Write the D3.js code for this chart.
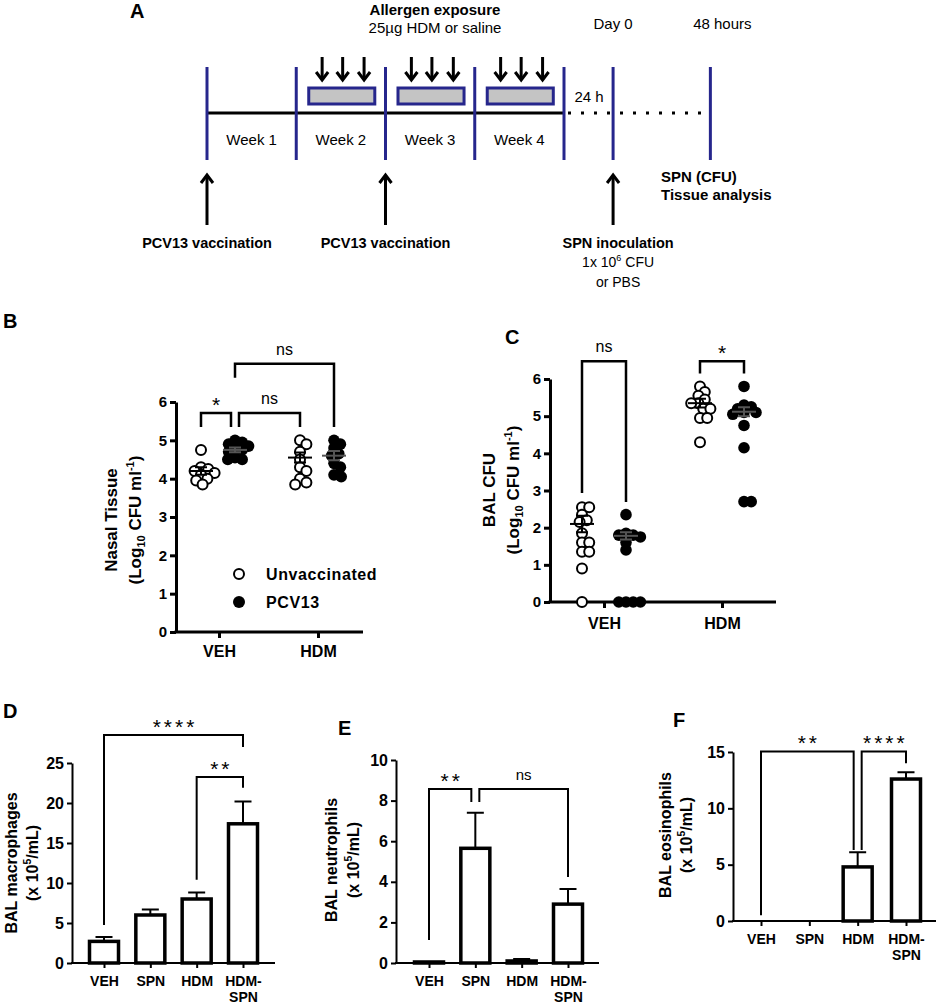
<!DOCTYPE html>
<html>
<head>
<meta charset="utf-8">
<script src="https://cdn.jsdelivr.net/npm/d3@7"></script>
<style>
body{margin:0;background:#fff;}
svg text{font-family:"Liberation Sans",Arial,sans-serif;fill:#000;}
</style>
</head>
<body>
<svg id="fig" width="941" height="1005"></svg>
<script>
/* ---- data ---- */
// panel A timeline (in weeks from first vaccination)
var weekNames = ["Week 1", "Week 2", "Week 3", "Week 4"];
var allergenWeeks = [1, 2, 3];
var doseDays = [0.29, 0.52, 0.76];     // three HDM doses inside each week
var vaccineWeeks = [0, 2];
var dayZero = 4.55, endPoint = 5.64;

// panel B nasal tissue, log10 CFU
var groupsBC = ["VEH", "HDM"];
var nasalUnvac = [[4.75, 4.3, 4.25, 4.2, 4.15, 4.1, 4.0, 3.95, 3.85],
                  [5.0, 4.9, 4.7, 4.5, 4.3, 4.2, 4.0, 3.9, 3.85]];
var nasalPcv = [[5.0, 4.95, 4.9, 4.85, 4.8, 4.75, 4.7, 4.55, 4.5, 4.5],
                [5.0, 4.9, 4.8, 4.65, 4.6, 4.4, 4.3, 4.1, 4.05]];
var nasalUnvacMean = [4.2, 4.55], nasalUnvacSem = [0.1, 0.13];
var nasalPcvMean = [4.75, 4.6], nasalPcvSem = [0.06, 0.12];

// panel C BAL CFU
var balUnvac = [[2.55, 2.55, 2.35, 2.2, 2.15, 1.85, 1.6, 1.6, 1.35, 1.35, 0.9, 0],
                [5.8, 5.65, 5.55, 5.45, 5.35, 5.35, 5.2, 5.2, 4.95, 4.95, 4.3]];
var balPcv = [[2.35, 1.85, 1.8, 1.8, 1.75, 1.6, 1.4, 0, 0, 0, 0],
              [5.8, 5.3, 5.25, 5.2, 5.1, 5.1, 5.05, 4.75, 4.15, 2.7, 2.7]];
var balUnvacMean = [2.1, 5.35], balUnvacSem = [0.22, 0.12];
var balPcvMean = [1.78, 5.12], balPcvSem = [0.1, 0.12];

// panels D-F cell counts (x 10^5/mL), mean and SEM
var barCats = ["VEH", "SPN", "HDM", "HDM-SPN"];
var macMean = [2.7, 6.0, 8.0, 17.4], macSem = [0.55, 0.7, 0.8, 2.8];
var neuMean = [0.05, 5.65, 0.1, 2.9], neuSem = [0, 1.75, 0.1, 0.75];
var eosMean = [0, 0, 4.8, 12.6], eosSem = [0, 0, 1.3, 0.6];

var svg = d3.select("#fig");
var navy = "#26268c";

function label(txt, x, y) {
  svg.append("text").attr("x", x).attr("y", y).attr("font-size", 20)
    .attr("font-weight", "bold").text(txt);
}

/* ---------------- panel A ---------------- */
function arrow(g, x, yTail, yTip) {
  var dir = yTip > yTail ? 1 : -1;
  g.append("line").attr("x1", x).attr("x2", x).attr("y1", yTail).attr("y2", yTip - dir)
    .attr("stroke", "#000").attr("stroke-width", 3);
  g.append("path")
    .attr("d", "M" + (x - 6) + "," + (yTip - dir * 8) + "L" + x + "," + yTip + "L" + (x + 6) + "," + (yTip - dir * 8))
    .attr("fill", "none").attr("stroke", "#000").attr("stroke-width", 3);
}

function drawTimeline() {
  var g = svg.append("g");
  var tx = d3.scaleLinear().domain([0, 4]).range([207, 564]);
  label("A", 130, 18);

  g.append("line").attr("x1", tx(0)).attr("x2", tx(4)).attr("y1", 113).attr("y2", 113)
    .attr("stroke", "#000").attr("stroke-width", 3);
  g.append("line").attr("x1", tx(4) + 4).attr("x2", tx(5.56)).attr("y1", 113).attr("y2", 113)
    .attr("stroke", "#000").attr("stroke-width", 3).attr("stroke-dasharray", "3,10");

  g.selectAll(".wk").data(d3.range(5).concat([dayZero, endPoint])).enter().append("line")
    .attr("x1", function(d) { return tx(d); }).attr("x2", function(d) { return tx(d); })
    .attr("y1", 67).attr("y2", 160).attr("stroke", navy).attr("stroke-width", 3);

  g.selectAll(".wl").data(weekNames).enter().append("text")
    .attr("x", function(d, i) { return tx(i + 0.5); }).attr("y", 145)
    .attr("text-anchor", "middle").attr("font-size", 15).text(function(d) { return d; });

  allergenWeeks.forEach(function(w) {
    g.append("rect").attr("x", tx(w + 0.14)).attr("y", 88)
      .attr("width", tx(w + 0.88) - tx(w + 0.14)).attr("height", 16)
      .attr("fill", "#c4c4c4").attr("stroke", navy).attr("stroke-width", 3);
    doseDays.forEach(function(d) { arrow(g, tx(w + d), 57, 80); });
  });

  vaccineWeeks.concat([dayZero]).forEach(function(w) { arrow(g, tx(w), 225, 175); });

  function t(s, x, y, opt) {
    var e = g.append("text").attr("x", x).attr("y", y).attr("font-size", opt.fs || 15)
      .attr("text-anchor", opt.anchor || "middle").text(s);
    if (opt.bold) e.attr("font-weight", "bold");
    return e;
  }
  t("Allergen exposure", 435, 15, {bold: true});
  t("25\u00b5g HDM or saline", 435, 33, {});
  t("Day 0", tx(dayZero), 29, {});
  t("48 hours", tx(endPoint) + 12, 29, {});
  t("24 h", 589, 102, {});
  vaccineWeeks.forEach(function(w) { t("PCV13 vaccination", tx(w), 248, {bold: true, fs: 14.5}); });
  t("SPN inoculation", tx(dayZero) + 5, 248, {bold: true, fs: 14.5});
  var sup = t("1x 10", tx(dayZero) + 5, 267, {fs: 14});
  sup.append("tspan").attr("font-size", 9).attr("dy", -6).text("6");
  sup.append("tspan").attr("dy", 6).text(" CFU");
  t("or PBS", tx(dayZero) + 5, 287, {fs: 14});
  t("SPN (CFU)", 661, 182, {bold: true, anchor: "start"});
  t("Tissue analysis", 661, 200, {bold: true, anchor: "start"});
}
drawTimeline();

/* ---------------- shared helpers ---------------- */
function yTitle(g, x1, x2, yc, line1, line2Parts, fs) {
  g.append("text").attr("transform", "translate(" + x1 + "," + yc + ") rotate(-90)")
    .attr("text-anchor", "middle").attr("font-size", fs).attr("font-weight", "bold").text(line1);
  var t2 = g.append("text").attr("transform", "translate(" + x2 + "," + yc + ") rotate(-90)")
    .attr("text-anchor", "middle").attr("font-size", fs).attr("font-weight", "bold");
  line2Parts.forEach(function(p) {
    var s = t2.append("tspan").text(p.t);
    if (p.sub) s.attr("font-size", fs * 0.65).attr("dy", 4);
    if (p.sup) s.attr("font-size", fs * 0.65).attr("dy", -7);
    if (p.back) s.attr("dy", p.back);
  });
}

function brackets(g, list, xOf, y, opts) {
  list.forEach(function(b, i) {
    var xa = xOf(b.a), xb = xOf(b.b);
    list.forEach(function(o, j) {
      if (j === i || o.top !== b.top) return;
      if (o.a === b.a || o.b === b.a) xa += 4;
      if (o.a === b.b || o.b === b.b) xb -= 4;
    });
    g.append("path")
      .attr("d", "M" + xa + "," + y(b.endA) + "V" + y(b.top) + "H" + xb + "V" + y(b.endB))
      .attr("fill", "none").attr("stroke", "#000").attr("stroke-width", opts.sw);
    var star = b.label.indexOf("*") >= 0;
    g.append("text").attr("x", (xa + xb) / 2 + (star ? 1.5 : 0))
      .attr("y", y(b.top) - (star ? 1 : 9))
      .attr("text-anchor", "middle")
      .attr("font-size", star ? 21 : opts.fs)
      .attr("letter-spacing", star ? 3 : 0)
      .text(b.label);
  });
}

function styleAxis(sel, sw, fs) {
  sel.selectAll("path,line").attr("stroke", "#000").attr("stroke-width", sw);
  sel.selectAll("text").attr("font-size", fs).attr("font-weight", "bold")
    .style("font-family", "'Liberation Sans',Arial,sans-serif");
}

/* ---------------- panels B and C (scatter with mean +/- SEM) ---------------- */
function swarm(vals, y, r) {
  var placed = [];
  vals.slice().sort(d3.descending).forEach(function(v) {
    var py = y(v), dx = 0;
    for (var k = 0; k < 80; k++) {
      dx = (k % 2 ? 1 : -1) * Math.ceil(k / 2) * 0.8;
      var ok = placed.every(function(p) {
        return (p.dx - dx) * (p.dx - dx) + (p.py - py) * (p.py - py) >= (1.3 * r) * (1.3 * r);
      });
      if (ok) break;
    }
    placed.push({v: v, dx: dx, py: py});
  });
  return placed;
}

function dotPlot(cfg) {
  var g = svg.append("g");
  var y = d3.scaleLinear().domain([0, 6]).range([cfg.bottom, cfg.top]);
  var x = d3.scalePoint().domain(groupsBC).range(cfg.xr);

  var ya = g.append("g").attr("transform", "translate(" + cfg.left + ",0)")
    .call(d3.axisLeft(y).ticks(6).tickSize(6).tickPadding(3).tickSizeOuter(0));
  styleAxis(ya, 3, 15);
  g.append("line").attr("x1", cfg.left - 1.5).attr("x2", cfg.right).attr("y1", cfg.bottom).attr("y2", cfg.bottom)
    .attr("stroke", "#000").attr("stroke-width", 3);
  var xa = g.append("g").attr("transform", "translate(0," + cfg.bottom + ")")
    .call(d3.axisBottom(x).tickSize(6).tickPadding(cfg.pad).tickSizeOuter(0));
  xa.select(".domain").remove();
  styleAxis(xa, 3, 16);

  var r = 5.5;
  cfg.series.forEach(function(s) {
    groupsBC.forEach(function(grp, gi) {
      var cx = x(grp) + s.off;
      swarm(s.vals[gi], y, r).forEach(function(p) {
        g.append("circle").attr("cx", cx + p.dx).attr("cy", p.py)
          .attr("r", s.open ? r - 0.5 : r + 0.3)
          .attr("fill", s.open ? "#fff" : "#000").attr("stroke", "#000").attr("stroke-width", s.open ? 2 : 0);
      });
      var m = s.mean[gi], e = s.sem[gi];
      g.append("line").attr("x1", cx - 12).attr("x2", cx + 12).attr("y1", y(m)).attr("y2", y(m))
        .attr("stroke", s.open ? "#000" : "#555").attr("stroke-width", 2);
      g.append("path")
        .attr("d", "M" + cx + "," + y(m - e) + "V" + y(m + e) +
          "M" + (cx - 6) + "," + y(m + e) + "H" + (cx + 6) + "M" + (cx - 6) + "," + y(m - e) + "H" + (cx + 6))
        .attr("fill", "none").attr("stroke", s.open ? "#000" : "#555").attr("stroke-width", 2);
    });
  });

  var xOf = function(key) {
    var p = key.split("|");
    return x(p[0]) + cfg.series[+p[1]].off;
  };
  brackets(g, cfg.brackets, xOf, y, {sw: 2.5, fs: 16});
  return g;
}

label("B", 3, 328);
var gB = dotPlot({
  left: 176, right: 363, bottom: 632, top: 402, xr: [219, 318], pad: 8,
  series: [
    {vals: nasalUnvac, mean: nasalUnvacMean, sem: nasalUnvacSem, open: true, off: -18},
    {vals: nasalPcv, mean: nasalPcvMean, sem: nasalPcvSem, open: false, off: 16}
  ],
  brackets: [
    {a: "VEH|0", b: "VEH|1", top: 5.71, endA: 5.35, endB: 5.35, label: "*"},
    {a: "VEH|1", b: "HDM|0", top: 5.71, endA: 5.35, endB: 5.35, label: "ns"},
    {a: "VEH|1", b: "HDM|1", top: 7.0, endA: 6.63, endB: 5.35, label: "ns"}
  ]
});
yTitle(gB, 117, 141, 520, "Nasal Tissue",
  [{t: "(Log"}, {t: "10", sub: true}, {t: " CFU ml", back: -4}, {t: "-1", sup: true}, {t: ")", back: 7}], 17);
// legend
gB.append("circle").attr("cx", 239).attr("cy", 574).attr("r", 5).attr("fill", "#fff").attr("stroke", "#000").attr("stroke-width", 2);
gB.append("circle").attr("cx", 239).attr("cy", 602).attr("r", 6).attr("fill", "#000");
gB.append("text").attr("x", 266).attr("y", 580).attr("font-size", 16).attr("font-weight", "bold").attr("letter-spacing", 0.6).text("Unvaccinated");
gB.append("text").attr("x", 266).attr("y", 608).attr("font-size", 16).attr("font-weight", "bold").attr("letter-spacing", 0.6).text("PCV13");

label("C", 505, 344);
var gC = dotPlot({
  left: 550, right: 776, bottom: 602, top: 379, xr: [604, 722], pad: 10,
  series: [
    {vals: balUnvac, mean: balUnvacMean, sem: balUnvacSem, open: true, off: -22},
    {vals: balPcv, mean: balPcvMean, sem: balPcvSem, open: false, off: 22}
  ],
  brackets: [
    {a: "VEH|0", b: "VEH|1", top: 6.48, endA: 2.93, endB: 2.69, label: "ns"},
    {a: "HDM|0", b: "HDM|1", top: 6.48, endA: 6.15, endB: 6.15, label: "*"}
  ]
});
yTitle(gC, 495, 519, 490, "BAL CFU",
  [{t: "(Log"}, {t: "10", sub: true}, {t: " CFU ml", back: -4}, {t: "-1", sup: true}, {t: ")", back: 7}], 17);

/* ---------------- panels D, E, F (bars, mean + SEM) ---------------- */
function barPlot(cfg) {
  var g = svg.append("g");
  var y = d3.scaleLinear().domain([0, cfg.max]).range([cfg.bottom, cfg.top]);
  var x = d3.scalePoint().domain(barCats).range(cfg.xr);
  var bw = 29;

  var ya = g.append("g").attr("transform", "translate(" + cfg.left + ",0)")
    .call(d3.axisLeft(y).tickValues(d3.range(0, cfg.max + 0.1, cfg.step)).tickSize(5).tickPadding(3).tickSizeOuter(0));
  styleAxis(ya, 2, 16);
  g.append("line").attr("x1", cfg.left - 1).attr("x2", cfg.right).attr("y1", cfg.bottom).attr("y2", cfg.bottom)
    .attr("stroke", "#000").attr("stroke-width", 2);
  var xa = g.append("g").attr("transform", "translate(0," + cfg.bottom + ")")
    .call(d3.axisBottom(x).tickSize(5).tickPadding(8).tickSizeOuter(0));
  xa.select(".domain").remove();
  styleAxis(xa, 2, 14);
  xa.selectAll(".tick text").each(function(d) {
    var parts = d.split("-");
    if (parts.length < 2) return;
    var t = d3.select(this).text(null);
    t.append("tspan").attr("x", 0).text(parts[0] + "-");
    t.append("tspan").attr("x", 0).attr("dy", 16).text(parts[1]);
  });

  cfg.mean.forEach(function(m, i) {
    var cx = x(barCats[i]), e = cfg.sem[i];
    if (e > 0) {
      g.append("path")
        .attr("d", "M" + cx + "," + y(m) + "V" + y(m + e) + "M" + (cx - 8.5) + "," + y(m + e) + "H" + (cx + 8.5))
        .attr("fill", "none").attr("stroke", "#000").attr("stroke-width", 2);
    }
    g.append("rect").attr("x", cx - bw / 2).attr("y", y(m))
      .attr("width", bw).attr("height", cfg.bottom - y(m))
      .attr("fill", "#fff").attr("stroke", "#000").attr("stroke-width", 3.5);
  });

  brackets(g, cfg.brackets, function(k) { return x(k); }, y, {sw: 2, fs: 15});
  return g;
}

label("D", 3, 718);
var gD = barPlot({
  left: 72, right: 275, bottom: 963, top: 763, max: 25, step: 5, xr: [104, 243],
  mean: macMean, sem: macSem,
  brackets: [
    {a: "VEH", b: "HDM-SPN", top: 28.5, endA: 4.75, endB: 27.0, label: "****"},
    {a: "HDM", b: "HDM-SPN", top: 23.25, endA: 10.4, endB: 21.9, label: "**"}
  ]
});
yTitle(gD, 17, 38, 863, "BAL macrophages",
  [{t: "(x 10"}, {t: "5", sup: true}, {t: "/mL)", back: 7}], 16);

label("E", 338, 735);
var gE = barPlot({
  left: 396, right: 599, bottom: 963, top: 760, max: 10, step: 2, xr: [429, 568],
  mean: neuMean, sem: neuSem,
  brackets: [
    {a: "VEH", b: "SPN", top: 8.57, endA: 1.13, endB: 7.93, label: "**"},
    {a: "SPN", b: "HDM-SPN", top: 8.57, endA: 7.93, endB: 4.24, label: "ns"}
  ]
});
yTitle(gE, 337, 359, 860, "BAL neutrophils",
  [{t: "(x 10"}, {t: "5", sup: true}, {t: "/mL)", back: 7}], 16);

label("F", 673, 727);
var gF = barPlot({
  left: 733, right: 936, bottom: 921, top: 752, max: 15, step: 5, xr: [761, 906],
  mean: eosMean, sem: eosSem,
  brackets: [
    {a: "VEH", b: "HDM", top: 15.05, endA: 0.5, endB: 6.3, label: "**"},
    {a: "HDM", b: "HDM-SPN", top: 15.05, endA: 6.3, endB: 14.0, label: "****"}
  ]
});
yTitle(gF, 671, 692, 835, "BAL eosinophils",
  [{t: "(x 10"}, {t: "5", sup: true}, {t: "/mL)", back: 7}], 16);
</script>
</body>
</html>
